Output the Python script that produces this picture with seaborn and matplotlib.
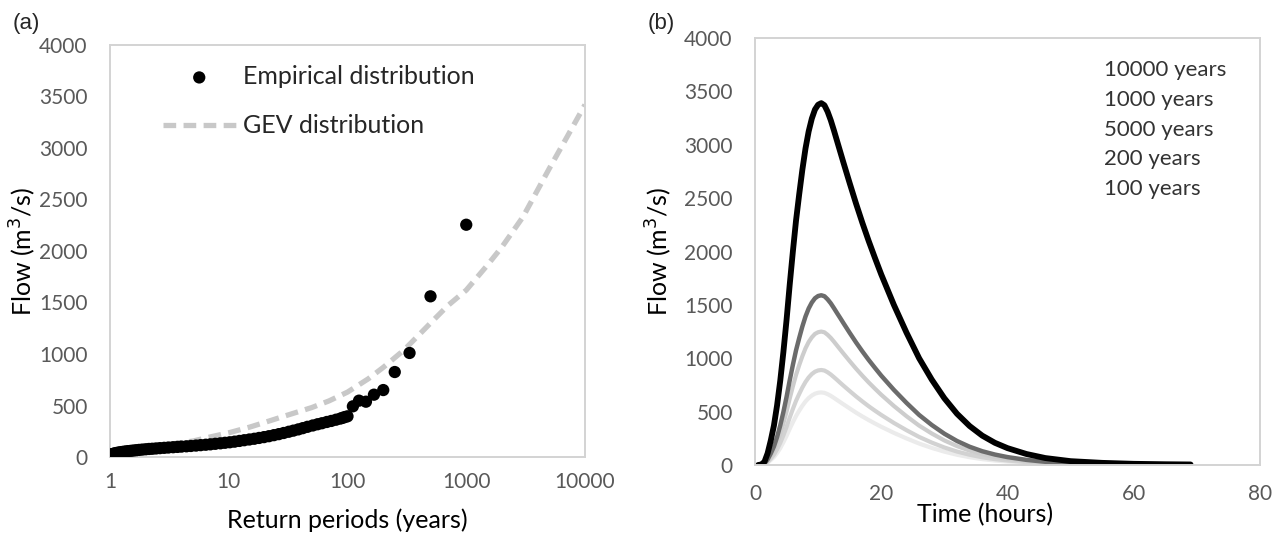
import matplotlib
matplotlib.use("Agg")
import matplotlib.pyplot as plt
import numpy as np
import pandas as pd
import seaborn as sns
from matplotlib.lines import Line2D

# ---------------- data: panel (a) ----------------
emp_T = [1.00, 1.02, 1.05, 1.08, 1.11, 1.15, 1.2, 1.25, 1.3, 1.36, 1.42, 1.5, 1.58, 1.67,
         1.76, 1.87, 2.0, 2.13, 2.27, 2.44, 2.63, 2.86, 3.1, 3.4, 3.7, 4.0, 4.4, 4.8, 5.3,
         5.8, 6.4, 7.0, 7.7, 8.5, 9.3, 10.2, 11.2, 12.3, 13.5, 14.9, 16.4, 18, 19.8, 21.8,
         24, 26.4, 29, 32, 35, 38.5, 42, 46, 51, 56, 61, 67, 73, 80, 87, 91, 95, 100,
         111, 125, 143, 167, 200, 250, 333, 500, 1000]
emp_Q = [20, 24, 29, 33, 37, 41, 45, 48, 51, 54, 57, 60, 63, 66,
         69, 72, 75, 78, 80, 83, 86, 89, 92, 95, 98, 101, 104, 107, 111,
         115, 119, 123, 128, 133, 138, 143, 149, 156, 163, 170, 177, 185, 193, 202,
         212, 222, 233, 245, 256, 268, 280, 293, 306, 318, 328, 340, 350, 362, 373, 380, 388, 395,
         492, 547, 537, 605, 650, 825, 1010, 1560, 2255]

gev_T = [1, 1.5, 2, 3, 5, 7, 10, 15, 20, 30, 50, 70, 100, 150, 200, 300, 500, 700,
         1000, 1500, 2000, 3000, 5000, 7000, 10000]
gev_Q = [20, 60, 85, 120, 155, 195, 235, 290, 335, 400, 480, 545, 630, 760, 870, 1040,
         1300, 1470, 1620, 1860, 2040, 2330, 2800, 3100, 3420]

# ---------------- data: panel (b) ----------------
hours = [0.5, 1, 1.5, 2, 2.5, 3, 3.5, 4, 4.5, 5, 5.5, 6, 6.5, 7, 7.5, 8, 8.5, 9, 9.5, 10,
         10.5, 11, 11.5, 12, 12.5, 13, 13.5, 14, 15, 16, 17, 18, 19, 20, 22, 24, 26, 28,
         30, 32, 34, 36, 38, 40, 43, 46, 50, 55, 60, 65, 69]
q_10000 = [0, 5, 30, 110, 230, 370, 560, 790, 1060, 1360, 1690, 2000, 2290, 2535, 2765,
           2965, 3125, 3245, 3330, 3375, 3390, 3370, 3310, 3230, 3135, 3035, 2935, 2835,
           2640, 2450, 2270, 2100, 1940, 1785, 1500, 1240, 1000, 800, 625, 480, 365, 275,
           208, 158, 103, 65, 36, 20, 11, 7, 5]
q_1000 = [0, 2, 14, 52, 108, 174, 263, 371, 497, 638, 793, 938, 1074, 1189, 1297, 1391,
          1466, 1522, 1562, 1583, 1590, 1581, 1552, 1515, 1470, 1423, 1377, 1330, 1238,
          1149, 1065, 985, 910, 837, 704, 582, 469, 375, 293, 225, 171, 129, 98, 74, 48,
          30, 17, 9, 5, 3, 2]
q_5000 = [0, 2, 11, 41, 85, 136, 206, 291, 391, 501, 623, 737, 844, 935, 1019, 1093,
          1152, 1196, 1228, 1244, 1250, 1243, 1220, 1191, 1156, 1119, 1082, 1045, 973,
          903, 837, 774, 715, 658, 553, 457, 369, 295, 230, 177, 135, 101, 77, 58, 38,
          24, 13, 7, 4, 3, 2]
q_200 = [0, 1, 8, 29, 60, 97, 147, 207, 278, 357, 444, 525, 601, 665, 726, 778, 820, 852,
         874, 886, 890, 885, 869, 848, 823, 797, 770, 744, 693, 643, 596, 551, 509, 469,
         394, 326, 263, 210, 164, 126, 96, 72, 55, 42, 27, 17, 9, 5, 3, 2, 1]
q_100 = [0, 1, 6, 22, 46, 74, 112, 158, 213, 273, 339, 401, 459, 509, 555, 595, 627, 651,
         668, 677, 680, 676, 664, 648, 629, 609, 589, 569, 530, 491, 455, 421, 389, 358,
         301, 249, 201, 160, 125, 96, 73, 55, 42, 32, 21, 13, 7, 4, 2, 1, 1]
series_labels = ["10000 years", "1000 years", "5000 years", "200 years", "100 years"]
series_values = [q_10000, q_1000, q_5000, q_200, q_100]
series_colors = ["#000000", "#6b6b6b", "#cdcdcd", "#d2d2d2", "#ebebeb"]
series_widths = [4.2, 3.2, 3.0, 3.0, 3.0]

a_yticks = [0, 500, 1000, 1500, 2000, 2500, 3000, 3500, 4000]
a_xticks = [1, 10, 100, 1000, 10000]
a_xticklabels = ["1", "10", "100", "1000", "10000"]
b_xticks = [0, 20, 40, 60, 80]

# ---------------- style ----------------
sns.set_theme(style="white")
plt.rcParams['font.family'] = ['Lato', 'DejaVu Sans']
TICK_COLOR = "#595959"
SPINE_COLOR = "#d3d3d3"

W, H = 1280, 533
fig = plt.figure(figsize=(W / 100, H / 100), dpi=100)
axa = fig.add_axes([110 / W, 1 - 457 / H, 475 / W, 412 / H])
axb = fig.add_axes([755 / W, 1 - 465 / H, 505 / W, 427 / H])


def style_axes(ax):
    for s in ax.spines.values():
        s.set_color(SPINE_COLOR)
        s.set_linewidth(1.4)
        s.set_visible(True)
    ax.tick_params(axis='both', length=0, labelsize=15, labelcolor=TICK_COLOR)
    ax.tick_params(axis='y', pad=16)
    ax.grid(False)


# ---------- panel (a) ----------
sns.lineplot(x=gev_T, y=gev_Q, ax=axa, color="#c8c8c8", linewidth=3.8, zorder=2,
             label="GEV distribution", sort=False)
gev_line = axa.lines[-1]
gev_line.set_dashes([2.4, 1.4])
gev_line.set_dash_capstyle('butt')
sns.scatterplot(x=emp_T, y=emp_Q, ax=axa, s=78, color="black", edgecolor="none",
                zorder=3, label="Empirical distribution")
axa.set_xscale('log')
axa.set_xlim(1, 10000)
axa.set_ylim(0, 4000)
axa.set_yticks(a_yticks)
axa.set_xticks(a_xticks)
axa.set_xticklabels(a_xticklabels)
axa.xaxis.set_minor_locator(matplotlib.ticker.NullLocator())
style_axes(axa)
axa.tick_params(axis='x', pad=11)
axa.set_xlabel("Return periods (years)", fontsize=18, color="black")
axa.xaxis.set_label_coords(0.5, -0.125)
axa.set_ylabel("Flow (m$^3$/s)", fontsize=18, color="black")
axa.yaxis.set_label_coords((38 - 110) / 475, 0.5)
h, l = axa.get_legend_handles_labels()
order = [l.index("Empirical distribution"), l.index("GEV distribution")]
axa.legend([h[i] for i in order], [l[i] for i in order], loc='upper left',
           bbox_to_anchor=(163 / W, 1 - 65 / H), bbox_transform=fig.transFigure,
           frameon=False, fontsize=18, handlelength=2.9, handletextpad=0.3,
           labelspacing=1.05, borderpad=0, borderaxespad=0, markerscale=1.0)

# ---------- panel (b) ----------
for lab, vals, col, lw in reversed(list(zip(series_labels, series_values,
                                             series_colors, series_widths))):
    sns.lineplot(x=hours, y=vals, ax=axb, color=col, linewidth=lw, label=lab,
                 sort=False, solid_capstyle='round', solid_joinstyle='round')
axb.set_xlim(0, 80)
axb.set_ylim(0, 4000)
axb.set_xticks(b_xticks)
axb.set_yticks(a_yticks)
style_axes(axb)
axb.tick_params(axis='x', pad=14)
axb.set_xlabel("Time (hours)", fontsize=18, color="black")
axb.xaxis.set_label_coords((985 - 755) / 505, -0.088)
axb.set_ylabel("Flow (m$^3$/s)", fontsize=18, color="black")
axb.yaxis.set_label_coords((674 - 755) / 505, 0.5)
leg_handles = [Line2D([], [], alpha=0) for _ in series_labels]
legb = axb.legend(leg_handles, series_labels, loc='upper left',
                  bbox_to_anchor=(1104 / W, 1 - 60 / H), bbox_transform=fig.transFigure,
                  frameon=False, fontsize=16, handlelength=0, handletextpad=0,
                  labelspacing=0.44, borderpad=0, borderaxespad=0)
for t in legb.get_texts():
    t.set_color("#333333")

fig.text(13 / W, 1 - 24 / H, "(a)", fontsize=16, family=['Liberation Sans', 'DejaVu Sans'],
         va='center', ha='left')
fig.text(648 / W, 1 - 24 / H, "(b)", fontsize=16, family=['Liberation Sans', 'DejaVu Sans'],
         va='center', ha='left')

fig.savefig("out.png", dpi=100, facecolor="white")
